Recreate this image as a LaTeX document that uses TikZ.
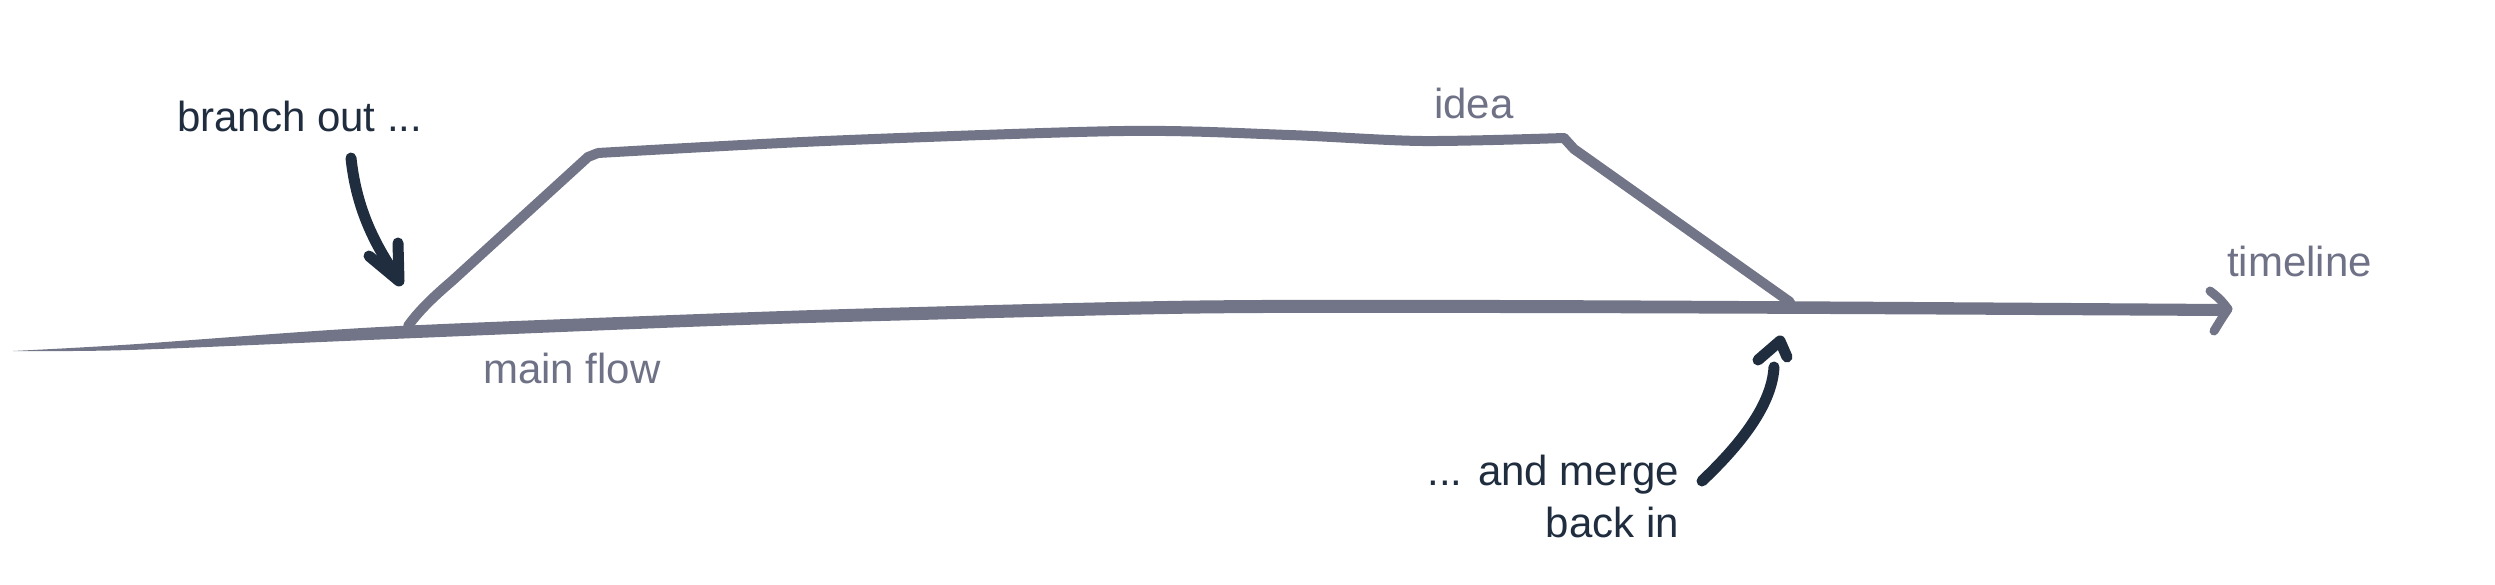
\documentclass[tikz,border=0pt]{standalone}
\usepackage{fontspec}
\setmainfont{Liberation Sans}
\definecolor{flowgrey}{HTML}{727487}
\definecolor{textgrey}{HTML}{6F7286}
\definecolor{inkdark}{HTML}{1F2D3F}
\tikzset{
  flowline/.style={draw=flowgrey, line width=10pt, line cap=round, line join=round},
  note/.style={draw=inkdark, line width=11pt, line cap=round, line join=round},
  darklabel/.style={text=inkdark, inner sep=0pt, font=\fontsize{42}{52}\selectfont},
  greylabel/.style={text=textgrey, inner sep=0pt, font=\fontsize{42}{52}\selectfont}
}
\begin{document}
\begin{tikzpicture}[x=1pt,y=-1pt]
\useasboundingbox (0,0) rectangle (2495,585);
% main flow (tapered)
\fill[flowgrey] plot[smooth, tension=0.5] coordinates {(13,351) (130,344.5) (380,327) (700,314) (900,307.5) (1200,300.5) (1500,300) (1830,301.5) (2224,304)}
  -- plot[smooth, tension=0.5] coordinates {(2224,316) (1830,314) (1500,313) (1200,313.5) (900,320.5) (700,326.5) (380,339.5) (130,350) (13,351)} -- cycle;
\coordinate (tip) at (2228,309);
\coordinate (hu) at (2210,291);
\coordinate (hd) at (2214,331);
\draw[flowline, line width=9pt] (hu) .. controls (2220,299) .. (tip) .. controls (2222,318) .. (hd);
% branch
\coordinate (bstart) at (408,326);
\coordinate (bc1) at (588,157);
\coordinate (bc2) at (1564,138);
\coordinate (merge) at (1790,302);
\draw[flowline] (bstart) .. controls (418,312) and (432,298) .. (452,281) -- (bc1) -- (598,153)
  plot[smooth, tension=0.5] coordinates {(598,153) (825,141) (1124,131) (1289,135) (1422,141) (bc2)};
\draw[flowline] (bc2) -- (1574,149) -- (merge);
% labels
\node[darklabel, anchor=base west] (lbranch) at (177,132) {branch out ...};
\node[greylabel, anchor=base west] (lidea) at (1434,119) {idea};
\node[greylabel, anchor=base west] (ltime) at (2227,277) {timeline};
\node[greylabel, anchor=base west] (lmain) at (483,383) {main flow};
\node[darklabel, anchor=base east] (lmerge1) at (1679,485) {... and merge};
\node[darklabel, anchor=base east] (lmerge2) at (1679,537) {back in};
% note arrows
\coordinate (a1s) at (351,158);
\coordinate (a1t) at (399,281);
\draw[note] (a1s) .. controls (356,205) and (372,240) .. (395,274);
\draw[note] (369,256) -- (a1t) -- (398,243);
\coordinate (a2s) at (1702,481);
\coordinate (a2t) at (1780,341);
\draw[note] (a2s) .. controls (1740,445) and (1772,405) .. (1774,367);
\draw[note] (1758,360) -- (a2t) -- (1787,357);
\end{tikzpicture}
\end{document}
